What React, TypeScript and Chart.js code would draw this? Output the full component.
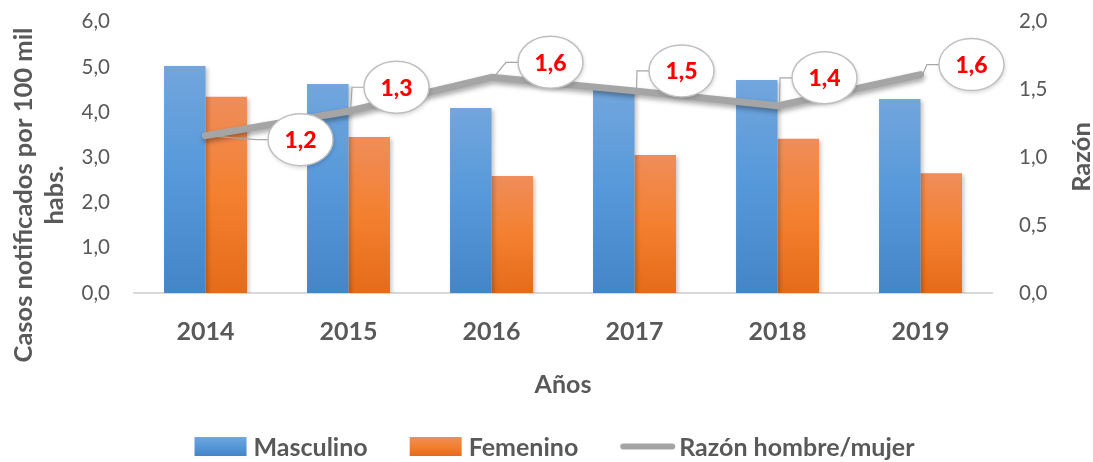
import { useEffect, useRef } from 'react';
import { Chart, registerables } from 'chart.js';

Chart.register(...registerables);

const years = ['2014', '2015', '2016', '2017', '2018', '2019'];
const masculino = [5.02, 4.62, 4.09, 4.5, 4.71, 4.29];
const femenino = [4.34, 3.45, 2.59, 3.05, 3.41, 2.65];
const razon = [1.16, 1.34, 1.59, 1.49, 1.38, 1.61];

const leftMax = 6;
const leftStep = 1;
const rightMax = 2;
const rightStep = 0.5;

const seriesNames = ['Masculino', 'Femenino', 'Razón hombre/mujer'];
const leftTitle = ['Casos notificados por 100 mil', 'habs.'];
const rightTitle = 'Razón';
const xTitle = 'Años';

// callout placement offsets (styling) relative to each ratio point
const calloutOffsets = [[95, 4], [48, -24], [59, -15], [47, -20], [47, -28], [51, -10]];

const FONT = 'Lato, "Open Sans", sans-serif';
const TEXT = '#595959';

const fmt = (v: number) => v.toFixed(1).replace('.', ',');

const blueStops = ['#72a6dd', '#5598da', '#4585c7'];
const orangeStops = ['#ef8d5a', '#f4802f', '#e46b19'];

function gradFill(stops: string[]) {
  return (c: any) => {
    const chart = c.chart;
    if (c.type !== 'data' || !chart.chartArea) return stops[1];
    const y = chart.scales.y;
    const top = y.getPixelForValue(c.raw);
    const bottom = y.getPixelForValue(0);
    if (!isFinite(top) || Math.abs(bottom - top) < 1) return stops[1];
    const g = chart.ctx.createLinearGradient(0, top, 0, bottom);
    g.addColorStop(0, stops[0]);
    g.addColorStop(0.5, stops[1]);
    g.addColorStop(1, stops[2]);
    return g;
  };
}

const shadowPlugin = {
  id: 'shadows',
  beforeDatasetDraw(chart: any, args: any) {
    const ctx = chart.ctx;
    ctx.save();
    if (args.meta.type === 'line') {
      ctx.shadowColor = 'rgba(0,0,0,0.35)';
      ctx.shadowBlur = 5;
      ctx.shadowOffsetX = 1;
      ctx.shadowOffsetY = 3;
    } else {
      ctx.shadowColor = 'rgba(0,0,0,0.22)';
      ctx.shadowBlur = 4;
      ctx.shadowOffsetX = 2;
      ctx.shadowOffsetY = 2;
    }
  },
  afterDatasetDraw(chart: any) {
    chart.ctx.restore();
  },
};

const calloutPlugin = {
  id: 'callouts',
  afterDatasetsDraw(chart: any) {
    const ctx = chart.ctx;
    const meta = chart.getDatasetMeta(2);
    ctx.save();
    meta.data.forEach((pt: any, i: number) => {
      const px = pt.x;
      const py = pt.y;
      const [dx, dy] = calloutOffsets[i];
      const cx = px + dx;
      const cy = py + dy;
      const rx = 32.5;
      const ry = 26;
      const left = cx - rx;
      ctx.beginPath();
      ctx.strokeStyle = '#a6a6a6';
      ctx.lineWidth = 1.2;
      ctx.moveTo(px + 2, py);
      ctx.lineTo(left - 12, cy);
      ctx.lineTo(left + 1, cy);
      ctx.stroke();
      ctx.save();
      ctx.shadowColor = 'rgba(0,0,0,0.18)';
      ctx.shadowBlur = 4;
      ctx.shadowOffsetX = 1;
      ctx.shadowOffsetY = 2;
      ctx.beginPath();
      ctx.ellipse(cx, cy, rx, ry, 0, 0, Math.PI * 2);
      ctx.fillStyle = '#ffffff';
      ctx.fill();
      ctx.restore();
      ctx.beginPath();
      ctx.ellipse(cx, cy, rx, ry, 0, 0, Math.PI * 2);
      ctx.strokeStyle = '#bfbfbf';
      ctx.lineWidth = 1.5;
      ctx.stroke();
      ctx.fillStyle = '#ff0000';
      ctx.font = `900 23px ${FONT}`;
      ctx.textAlign = 'center';
      ctx.textBaseline = 'middle';
      ctx.fillText(fmt(razon[i]), cx, cy + 1);
    });
    ctx.restore();
  },
};

const titlesLegendPlugin = {
  id: 'titlesLegend',
  afterDraw(chart: any) {
    const ctx = chart.ctx;
    ctx.save();
    ctx.fillStyle = TEXT;
    ctx.font = `bold 25.5px ${FONT}`;
    ctx.textAlign = 'center';
    ctx.textBaseline = 'middle';
    ctx.save();
    ctx.translate(40, 195);
    ctx.rotate(-Math.PI / 2);
    ctx.fillText(leftTitle[0], 0, -16);
    ctx.fillText(leftTitle[1], 0, 15);
    ctx.restore();
    ctx.save();
    ctx.translate(1082, 157);
    ctx.rotate(-Math.PI / 2);
    ctx.fillText(rightTitle, 0, 0);
    ctx.restore();

    // legend
    ctx.font = `bold 25px ${FONT}`;
    const boxW = 52;
    const boxH = 19;
    const textGap = 7;
    const itemGap = 42;
    const ly = 446.5;
    const widths = seriesNames.map((n) => ctx.measureText(n).width);
    const total = widths.reduce((a, w) => a + boxW + textGap + w, 0) + itemGap * (seriesNames.length - 1);
    let x = 554.5 - total / 2;
    seriesNames.forEach((name, i) => {
      if (i < 2) {
        const stops = i === 0 ? blueStops : orangeStops;
        const g = ctx.createLinearGradient(0, ly - boxH / 2, 0, ly + boxH / 2);
        g.addColorStop(0, stops[0]);
        g.addColorStop(0.5, stops[1]);
        g.addColorStop(1, stops[2]);
        ctx.fillStyle = g;
        ctx.fillRect(x, ly - boxH / 2, boxW, boxH);
      } else {
        ctx.beginPath();
        ctx.strokeStyle = '#a5a5a5';
        ctx.lineWidth = 6;
        ctx.lineCap = 'round';
        ctx.moveTo(x + 3, ly);
        ctx.lineTo(x + boxW, ly);
        ctx.stroke();
      }
      ctx.fillStyle = TEXT;
      ctx.textAlign = 'left';
      ctx.fillText(name, x + boxW + textGap, ly + 1);
      x += boxW + textGap + widths[i] + itemGap;
    });
    ctx.restore();
  },
};

const fitY = (w: number) => (s: any) => {
  s.width = w;
  s.paddingTop = 0;
  s.paddingBottom = 0;
};

export default function App() {
  const ref = useRef<HTMLCanvasElement | null>(null);
  useEffect(() => {
    if (!ref.current) return;
    const chart = new Chart(ref.current, {
      type: 'bar',
      data: {
        labels: years,
        datasets: [
          {
            type: 'bar',
            label: seriesNames[0],
            data: masculino,
            backgroundColor: gradFill(blueStops),
            yAxisID: 'y',
            order: 1,
            barPercentage: 1,
            categoryPercentage: 0.58,
          },
          {
            type: 'bar',
            label: seriesNames[1],
            data: femenino,
            backgroundColor: gradFill(orangeStops),
            yAxisID: 'y',
            order: 1,
            barPercentage: 1,
            categoryPercentage: 0.58,
          },
          {
            type: 'line',
            label: seriesNames[2],
            data: razon,
            borderColor: '#a5a5a5',
            borderWidth: 7,
            borderCapStyle: 'round',
            borderJoinStyle: 'round',
            pointRadius: 0,
            tension: 0,
            yAxisID: 'y1',
            order: 0,
          } as any,
        ],
      },
      options: {
        responsive: false,
        animation: false,
        layout: { padding: { top: 21.7, left: 0, right: 0, bottom: 0 } },
        plugins: { legend: { display: false }, tooltip: { enabled: false } },
        scales: {
          x: {
            grid: { display: false, drawTicks: false },
            border: { display: true, color: '#d9d9d9', width: 2 },
            ticks: { color: TEXT, font: { family: FONT, size: 25, weight: 'bold' }, padding: 24 },
            title: {
              display: true,
              text: xTitle,
              color: TEXT,
              font: { family: FONT, size: 25, weight: 'bold', lineHeight: 1.2 },
              padding: { top: 0, bottom: 62 },
            },
            afterFit: (s: any) => { s.height = 169; s.paddingLeft = 0; s.paddingRight = 0; },
          },
          y: {
            position: 'left',
            min: 0,
            max: leftMax,
            grid: { display: false, drawTicks: false },
            border: { display: false },
            ticks: { stepSize: leftStep, color: TEXT, font: { family: FONT, size: 20.5 }, padding: 24, callback: (v: any) => fmt(Number(v)) },
            afterFit: fitY(134),
          },
          y1: {
            position: 'right',
            min: 0,
            max: rightMax,
            grid: { display: false, drawTicks: false },
            border: { display: false },
            ticks: { stepSize: rightStep, color: TEXT, font: { family: FONT, size: 20.5 }, padding: 27, callback: (v: any) => fmt(Number(v)) },
            afterFit: fitY(101),
          },
        },
      },
      plugins: [shadowPlugin, calloutPlugin, titlesLegendPlugin],
    });
    return () => chart.destroy();
  }, []);
  return (
    <div style={{ position: 'absolute', left: 0, top: 0, width: 1093, height: 462, background: '#ffffff' }}>
      <canvas ref={ref} width={1093} height={462} style={{ display: 'block' }} />
    </div>
  );
}
